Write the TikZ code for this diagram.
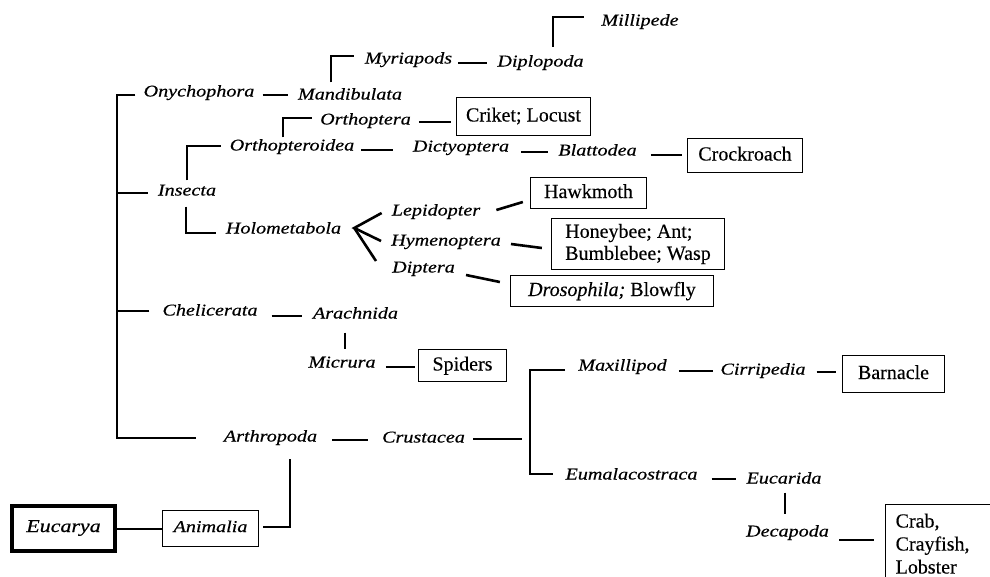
\documentclass[tikz,border=0pt]{standalone}
\usepackage{fontspec}
\setmainfont{Liberation Serif}
\newfontfamily\labfont[FakeStretch=1.22,FakeBold=0.5]{Liberation Serif}
\newfontfamily\boxfont[FakeBold=0.3]{Liberation Serif}
\usetikzlibrary{calc}
\tikzset{
  lab/.style={font=\labfont\itshape\fontsize{16.5}{18}\selectfont, inner sep=0pt, text height=11pt, text depth=4pt},
  bx/.style={draw, line width=1.3pt, font=\boxfont\fontsize{20}{22}\selectfont, inner sep=0pt},
  bx1/.style={bx, text height=14pt, text depth=4pt},
  ln/.style={line width=2.6pt},
  thinln/.style={line width=2pt},
}
\newcommand\hl[5]{\draw[ln] ($(#1.east)+(#3,#5)$) -- ($(#2.west |- #1.east)+(-#4,#5)$);}
\begin{document}
\begin{tikzpicture}[x=1pt,y=-1pt]
\useasboundingbox (0,0) rectangle (990,576);
\clip (0,0) rectangle (990,576);
% taxon labels
\node[lab] (mill) at (640,22) {Millipede};
\node[lab] (dip) at (540.5,63) {Diplopoda};
\node[lab] (myr) at (408.5,60) {Myriapods};
\node[lab] (ony) at (199,93) {Onychophora};
\node[lab] (mand) at (350,96) {Mandibulata};
\node[lab] (orta) at (365.5,121) {Orthoptera};
\node[lab] (ortd) at (292,147) {Orthopteroidea};
\node[lab] (dict) at (461,148) {Dictyoptera};
\node[lab] (blat) at (597.5,152) {Blattodea};
\node[lab] (ins) at (187,192) {Insecta};
\node[lab] (holo) at (283.5,230) {Holometabola};
\node[lab] (lep) at (436,212) {Lepidopter};
\node[lab] (hym) at (446,242) {Hymenoptera};
\node[lab] (dipt) at (423.5,269) {Diptera};
\node[lab] (chel) at (210,312) {Chelicerata};
\node[lab] (arach) at (355.5,315) {Arachnida};
\node[lab] (mic) at (342,364) {Micrura};
\node[lab] (arth) at (270.5,438) {Arthropoda};
\node[lab] (crus) at (423.5,439) {Crustacea};
\node[lab] (maxi) at (622.5,367) {Maxillipod};
\node[lab] (cirr) at (763,371) {Cirripedia};
\node[lab] (eum) at (631.5,476) {Eumalacostraca};
\node[lab] (euc) at (784,480) {Eucarida};
\node[lab] (deca) at (787.5,533) {Decapoda};
% boxes
\node[bx1, minimum width=134pt, minimum height=38pt] (crik) at (523.5,116.5) {Criket; Locust};
\node[bx1, minimum width=115pt, minimum height=34pt] (crock) at (745,155.5) {Crockroach};
\node[bx1, minimum width=116pt, minimum height=31pt] (hawk) at (588.5,193) {Hawkmoth};
\node[bx, align=left, minimum width=173pt, minimum height=51pt] (honey) at (638,244) {Honeybee; Ant;\\Bumblebee; Wasp};
\node[bx1, minimum width=203pt, minimum height=31pt] (dros) at (612,291) {{\itshape Drosophila;} Blowfly};
\node[bx1, minimum width=88pt, minimum height=32pt] (spid) at (462.5,365.5) {Spiders};
\node[bx1, minimum width=102pt, minimum height=37pt] (barn) at (893.5,374) {Barnacle};
\node[bx, align=left, anchor=north west, inner xsep=10pt, inner ysep=9pt, text width=130pt, font=\boxfont\fontsize{20}{23}\selectfont] (crab) at (885,504) {Crab,\\Crayfish,\\Lobster};
\node[draw, line width=1.3pt, lab, minimum width=96pt, minimum height=36pt] (anim) at (210.5,528.5) {Animalia};
\node[draw, line width=4pt, lab, font=\labfont\itshape\fontsize{18}{20}\selectfont, minimum width=103pt, minimum height=45pt] (eucb) at (63.5,528.5) {Eucarya};
% straight links
\hl{ony}{mand}{8}{10}{2}
\hl{myr}{dip}{6}{10}{3}
\hl{orta}{crik}{8}{5}{1}
\hl{ortd}{dict}{7}{20}{3}
\hl{dict}{blat}{12}{10}{4}
\hl{blat}{crock}{14}{5}{3}
\hl{chel}{arach}{14}{11}{4}
\hl{mic}{spid}{10}{3}{3}
\hl{arth}{crus}{15}{14}{2}
\hl{maxi}{cirr}{12}{7}{4}
\hl{cirr}{barn}{11}{6}{1}
\hl{eum}{euc}{14}{10}{3}
\hl{deca}{crab}{10}{11}{7}
% slanted links to boxes
\draw[ln] ($(lep.east)+(16,-2)$) -- ($(hawk.west)+(-7,9)$);
\draw[ln] ($(hym.east)+(10,2)$) -- ($(honey.west)+(-9,4)$);
\draw[ln] ($(dipt.east)+(11,6)$) -- ($(dros.west)+(-10,-9)$);
% fan from Holometabola
\coordinate (fan) at ($(holo.east)+(13,-2)$);
\draw[ln] ($(lep.west)+(-10,1)$) -- (fan) -- ($(hym.west)+(-10,-1)$);
\draw[ln] (fan) -- ($(dipt.west)+(-16,-8)$);
% trunk
\coordinate (tk) at (117,0);
\draw[ln] ($(ony.west)+(-8,2)$) -- ($(tk |- ony.west)+(0,2)$) -- (tk |- arth.west) -- ($(arth.west)+(-28,0)$);
\draw[ln] ($(ins.west)+(-10,1)$) -- ($(tk |- ins.west)+(0,1)$);
\draw[ln] ($(chel.west)+(-13,-1)$) -- ($(tk |- chel.west)+(0,-1)$);
% brackets
\draw[ln] ($(mand.north)+(-19,-6)$) |- ($(myr.west)+(-11,-4)$);
\draw[ln] ($(dip.north)+(12.5,-8.5)$) |- ($(mill.west)+(-17,-5)$);
\draw[ln] ($(ortd.north)+(-9,-2)$) |- ($(orta.west)+(-8,-3)$);
\draw[ln] ($(ins.north)+(0,-4)$) |- ($(ortd.west)+(-9,-1)$);
\draw[ln] ($(ins.south)+(-1,7)$) |- ($(holo.west)+(-10,3)$);
\draw[ln] ($(mic.north |- arach.south)+(3,10)$) -- ($(mic.north)+(3,-7)$);
\draw[ln] ($(euc.south)+(1,5)$) -- ($(euc.south |- deca.north)+(1,-11)$);
% Crustacea split
\coordinate (cb) at (530,439);
\draw[ln] ($(crus.east)+(8,0)$) -- ($(cb)+(-8,0)$);
\draw[ln] ($(maxi.west)+(-13,3)$) -- ($(cb |- maxi.west)+(0,3)$) -- ($(cb |- eum.west)+(0,-2)$) -- ($(eum.west)+(-12,-2)$);
% Arthropoda to Animalia
\draw[ln] ($(arth.south)+(19.5,13.5)$) |- ($(anim.east)+(4,-1.5)$);
\draw[thinln] (eucb.east) -- (anim.west);
\end{tikzpicture}
\end{document}
